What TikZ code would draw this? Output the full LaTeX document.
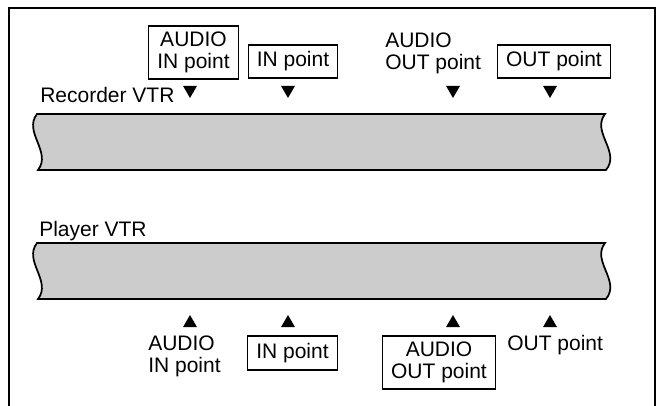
\documentclass[tikz,border=0pt]{standalone}
\usepackage{fontspec}
\setmainfont{Liberation Sans}
\usetikzlibrary{shapes.geometric}
\tikzset{
 tape/.style={draw,line width=1.3pt,fill=black!20},
 lbl/.style={inner sep=0pt,align=left},
 pbox/.style={draw,line width=0.8pt,inner xsep=6.5pt,inner ysep=0pt,align=center},
 tridn/.style={regular polygon,regular polygon sides=3,shape border rotate=180,fill=black,inner sep=0pt,minimum size=12pt},
 triup/.style={regular polygon,regular polygon sides=3,fill=black,inner sep=0pt,minimum size=12pt}
}
\begin{document}
\begin{tikzpicture}[x=0.75pt,y=-0.75pt,font=\fontsize{15.75}{16}\selectfont]
\useasboundingbox (0,0) rectangle (660,406);
\draw[line width=0.8pt] (9,406) -- (9,8) -- (655,8) -- (655,406);
% tapes
\foreach \t in {114,243}
 \draw[tape] (37,\t) -- (605,\t) .. controls (591,\t+18) and (621,\t+38) .. (606,\t+56) -- (38,\t+56) .. controls (52,\t+38) and (23,\t+18) .. (37,\t) -- cycle;
\node[lbl,anchor=base west] (recvtr) at (40,103) {Recorder VTR};
\node[lbl,anchor=base west] (plyvtr) at (39,236) {Player VTR};
% recorder side
\node[pbox,minimum height=39.75pt] (recain) at (193.5,52.5) {AUDIO\\IN point};
\node[pbox,minimum height=24.75pt] (recin) at (293,61.5) {IN point};
\node[lbl,anchor=north west] (recaout) at (385,33) {AUDIO\\OUT point};
\node[pbox,minimum height=24.75pt] (recout) at (554,61.5) {OUT point};
% player side
\node[lbl,anchor=north west] (plyain) at (148,336) {AUDIO\\IN point};
\node[pbox,minimum height=25.5pt] (plyin) at (292.5,353) {IN point};
\node[pbox,minimum height=39.75pt] (plyaout) at (439,362.5) {AUDIO\\OUT point};
\node[lbl,anchor=north west] (plyout) at (507,335) {OUT point};
\foreach \x [count=\i] in {190,288,453,550} {
 \node[tridn] (rt\i) at (\x,90) {};
 \node[triup] (pt\i) at (\x,323) {};
}
\end{tikzpicture}
\end{document}
